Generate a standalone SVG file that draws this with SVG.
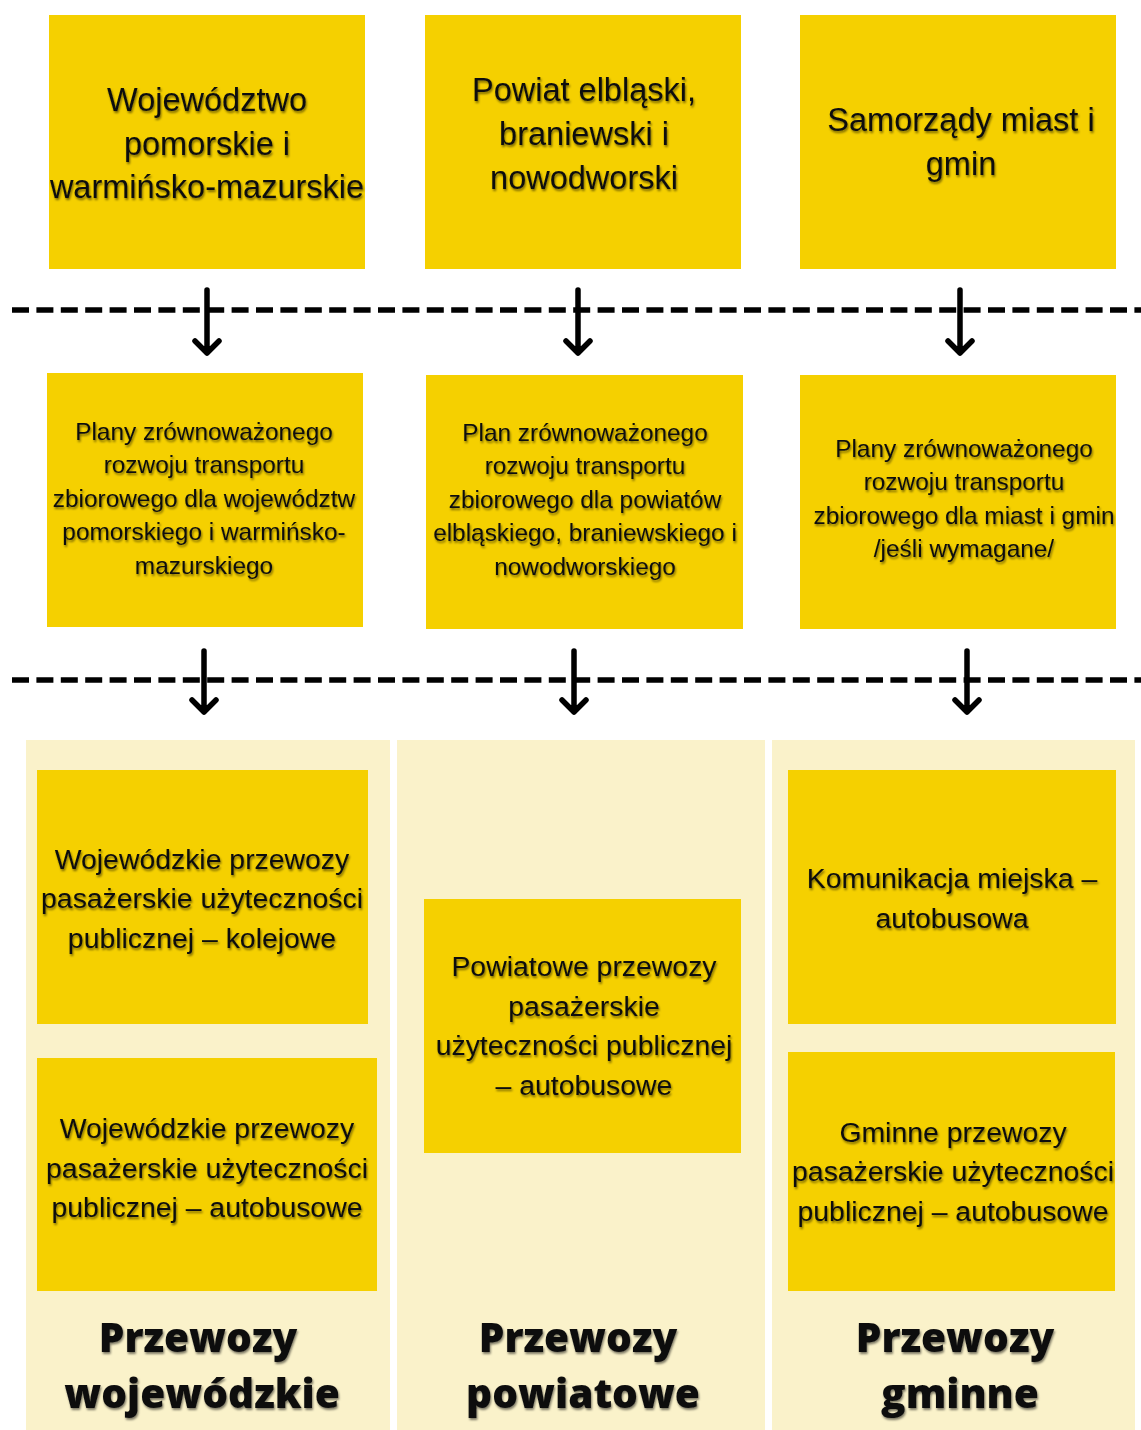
<svg xmlns="http://www.w3.org/2000/svg" width="1141" height="1430" viewBox="0 0 1141 1430">
<defs>
<filter id="sh" x="-10%" y="-30%" width="120%" height="160%">
<feDropShadow dx="1" dy="2" stdDeviation="1.3" flood-color="#000" flood-opacity="0.5"/>
</filter>
</defs>
<style>
.box{fill:#F5D000}
.panel{fill:#FAF2CA}
.t{font-family:"Liberation Sans",Arial,sans-serif;fill:#111;text-anchor:middle;filter:url(#sh)}
.t32{font-size:32.5px}
.t24{font-size:24.4px}
.t28{font-size:28.4px}
.lbl{font-family:"Open Sans","Noto Sans",sans-serif;font-weight:800;font-size:40.6px;fill:#111;text-anchor:middle;filter:url(#sh)}
.dash{stroke:#000;stroke-width:5.5;stroke-dasharray:17 7.4;fill:none}
.arr{stroke:#000;stroke-width:5.5;stroke-linecap:round;stroke-linejoin:round;fill:none}
</style>
<rect width="1141" height="1430" fill="#fff"/>
<g id="panels">
<rect class="panel" x="26" y="740" width="364" height="690"/>
<rect class="panel" x="397" y="740" width="368" height="690"/>
<rect class="panel" x="772" y="740" width="363" height="690"/>
</g>
<g id="connectors">
<line class="dash" x1="12" y1="310" x2="1141" y2="310"/>
<line class="dash" x1="12" y1="680" x2="1141" y2="680"/>
<path class="arr" d="M207 290V353M195 341L207 353L219 341"/>
<path class="arr" d="M578 290V353M566 341L578 353L590 341"/>
<path class="arr" d="M960 290V353M948 341L960 353L972 341"/>
<path class="arr" d="M204 651V712M192 700L204 712L216 700"/>
<path class="arr" d="M574 651V712M562 700L574 712L586 700"/>
<path class="arr" d="M967 651V712M955 700L967 712L979 700"/>
</g>
<g id="n-woj">
<rect class="box" x="49" y="15" width="316" height="254"/>
<text class="t t32"><tspan x="207" y="111">Województwo</tspan><tspan x="207" y="155">pomorskie i</tspan><tspan x="207" y="198">warmińsko-mazurskie</tspan></text>
</g>
<g id="n-pow">
<rect class="box" x="425" y="15" width="316" height="254"/>
<text class="t t32"><tspan x="584" y="101">Powiat elbląski,</tspan><tspan x="584" y="145">braniewski i</tspan><tspan x="584" y="189">nowodworski</tspan></text>
</g>
<g id="n-gmin">
<rect class="box" x="800" y="15" width="316" height="254"/>
<text class="t t32"><tspan x="961" y="131">Samorządy miast i</tspan><tspan x="961" y="175">gmin</tspan></text>
</g>
<g id="n-plan-woj">
<rect class="box" x="47" y="373" width="316" height="254"/>
<text class="t t24"><tspan x="204" y="440">Plany zrównoważonego</tspan><tspan x="204" y="473">rozwoju transportu</tspan><tspan x="204" y="507">zbiorowego dla województw</tspan><tspan x="204" y="540">pomorskiego i warmińsko-</tspan><tspan x="204" y="574">mazurskiego</tspan></text>
</g>
<g id="n-plan-pow">
<rect class="box" x="426" y="375" width="317" height="254"/>
<text class="t t24"><tspan x="585" y="441">Plan zrównoważonego</tspan><tspan x="585" y="474">rozwoju transportu</tspan><tspan x="585" y="508">zbiorowego dla powiatów</tspan><tspan x="585" y="541">elbląskiego, braniewskiego i</tspan><tspan x="585" y="575">nowodworskiego</tspan></text>
</g>
<g id="n-plan-gmin">
<rect class="box" x="800" y="375" width="316" height="254"/>
<text class="t t24"><tspan x="964" y="457">Plany zrównoważonego</tspan><tspan x="964" y="490">rozwoju transportu</tspan><tspan x="964" y="524">zbiorowego dla miast i gmin</tspan><tspan x="964" y="557">/jeśli wymagane/</tspan></text>
</g>
<g id="n-woj-kol">
<rect class="box" x="37" y="770" width="331" height="254"/>
<text class="t t28"><tspan x="202" y="869">Wojewódzkie przewozy</tspan><tspan x="202" y="908">pasażerskie użyteczności</tspan><tspan x="202" y="948">publicznej – kolejowe</tspan></text>
</g>
<g id="n-woj-aut">
<rect class="box" x="37" y="1058" width="340" height="233"/>
<text class="t t28"><tspan x="207" y="1138">Wojewódzkie przewozy</tspan><tspan x="207" y="1178">pasażerskie użyteczności</tspan><tspan x="207" y="1217">publicznej – autobusowe</tspan></text>
</g>
<g id="n-pow-aut">
<rect class="box" x="424" y="899" width="317" height="254"/>
<text class="t t28"><tspan x="584" y="976">Powiatowe przewozy</tspan><tspan x="584" y="1016">pasażerskie</tspan><tspan x="584" y="1055">użyteczności publicznej</tspan><tspan x="584" y="1095">– autobusowe</tspan></text>
</g>
<g id="n-kom">
<rect class="box" x="788" y="770" width="328" height="254"/>
<text class="t t28"><tspan x="952" y="888">Komunikacja miejska –</tspan><tspan x="952" y="928">autobusowa</tspan></text>
</g>
<g id="n-gmin-aut">
<rect class="box" x="788" y="1052" width="327" height="239"/>
<text class="t t28"><tspan x="953" y="1142">Gminne przewozy</tspan><tspan x="953" y="1181">pasażerskie użyteczności</tspan><tspan x="953" y="1221">publicznej – autobusowe</tspan></text>
</g>
<g id="labels">
<text class="lbl"><tspan x="198" y="1352">Przewozy</tspan><tspan x="202" y="1408">wojewódzkie</tspan></text>
<text class="lbl"><tspan x="578" y="1352">Przewozy</tspan><tspan x="583" y="1408">powiatowe</tspan></text>
<text class="lbl"><tspan x="955" y="1352">Przewozy</tspan><tspan x="960" y="1408">gminne</tspan></text>
</g>
</svg>
